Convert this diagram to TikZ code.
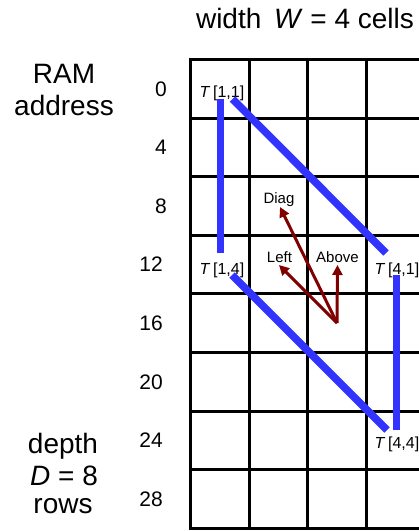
\documentclass[tikz,border=0pt]{standalone}
\usepackage{fontspec}
\setmainfont{Liberation Sans}
\usetikzlibrary{arrows.meta}
\definecolor{tblue}{RGB}{51,51,255}
\definecolor{darr}{RGB}{128,0,0}
\begin{document}
\begin{tikzpicture}[x=1pt,y=-1pt,
  gridline/.style={line width=3pt, line cap=rect},
  bigtext/.style={font=\fontsize{28}{32}\selectfont, inner sep=0, anchor=base},
  numtext/.style={font=\fontsize{21}{24}\selectfont, inner sep=0, anchor=east},
  tlab/.style={font=\fontsize{16}{18}\selectfont, inner sep=0, anchor=base},
  alab/.style={font=\fontsize{15}{17}\selectfont, inner sep=0, anchor=base},
  tpath/.style={draw=tblue, line width=7.5pt},
  darrow/.style={draw=darr, line width=3pt, -{Triangle[length=10pt,width=10pt]}}
]
\useasboundingbox (0,0) rectangle (419,531);
\clip (0,0) rectangle (419,531);
% grid
\foreach \i in {0,...,4} \draw[gridline] ({190.5+58.6*\i},59.5) -- ({190.5+58.6*\i},528.3);
\foreach \j in {0,...,8} \draw[gridline] (190.5,{59.5+58.6*\j}) -- (430,{59.5+58.6*\j});
% title
\node[bigtext] (title) at (305,28) {width\hspace{0.45em}\textit{W} = 4 cells};
% left labels
\node[bigtext] (ram) at (64,83) {RAM};
\node[bigtext] (addr) at (64,115) {address};
\node[bigtext] (depth) at (63,453) {depth};
\node[bigtext] (dval) at (64,485) {\textit{D} = 8};
\node[bigtext] (rows) at (63,513) {rows};
% addresses
\node[numtext] (n0) at (167,88.8) {0};
\node[numtext] (n4) at (167,147.4) {4};
\node[numtext] (n8) at (167,206) {8};
\node[numtext] (n12) at (163,264.6) {12};
\node[numtext] (n16) at (163,323.2) {16};
\node[numtext] (n20) at (163,381.8) {20};
\node[numtext] (n24) at (163,440.4) {24};
\node[numtext] (n28) at (163,499) {28};
% T labels
\node[tlab] (t11) at (222,97) {\textit{T}\,[1,1]};
\node[tlab] (t14) at (222,274) {\textit{T}\,[1,4]};
\node[tlab] (t41) at (397,274) {\textit{T}\,[4,1]};
\node[tlab] (t44) at (397,448) {\textit{T}\,[4,4]};
% blue paths
\coordinate (a1) at (220.5,99);
\coordinate (a2) at (220.5,253);
\coordinate (b1) at (232.5,99);
\coordinate (b2) at (386,253);
\coordinate (c1) at (232,275);
\coordinate (c2) at (387,430);
\coordinate (d1) at (396.5,275);
\coordinate (d2) at (396.5,430);
\draw[tpath] (a1) -- (a2);
\draw[tpath] (b1) -- (b2);
\draw[tpath] (c1) -- (c2);
\draw[tpath] (d1) -- (d2);
% arrow labels
\node[alab] (diag) at (279,203) {Diag};
\node[alab] (left) at (279.5,262) {Left};
\node[alab] (above) at (337.5,262) {Above};
\coordinate (src) at (337,323);
\coordinate (tipD) at (280,207);
\coordinate (tipL) at (279,265);
\coordinate (tipA) at (337.5,265);
\draw[darrow] (src) -- (tipD);
\draw[darrow] (src) -- (tipL);
\draw[darrow] (src) -- (tipA);
\end{tikzpicture}
\end{document}
